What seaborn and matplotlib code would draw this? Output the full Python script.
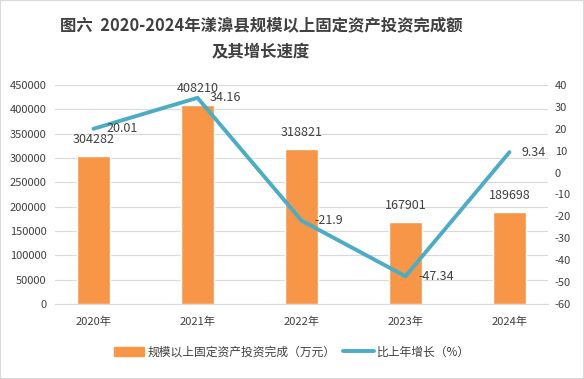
import seaborn as sns
from matplotlib import pyplot as plt
from matplotlib.patches import Patch
from matplotlib.lines import Line2D
import numpy as np
import pandas as pd

years = ['2020年', '2021年', '2022年', '2023年', '2024年']
invest = [304282, 408210, 318821, 167901, 189698]
growth = [20.01, 34.16, -21.9, -47.34, 9.34]

BAR = '#f79646'
LINE = '#4bacc6'
TXT = '#404040'

sns.set_style('white')
plt.rcParams['font.family'] = ['Noto Sans CJK SC', 'DejaVu Sans']
plt.rcParams['axes.unicode_minus'] = False

df = pd.DataFrame({'year': years, 'invest': invest, 'growth': growth})

fig = plt.figure(figsize=(5.84, 3.79), dpi=100)
ax = fig.add_axes([55 / 584, 1 - 304 / 379, 493 / 584, 219 / 379])
sns.barplot(data=df, x='year', y='invest', color=BAR, width=0.31, saturation=1, ax=ax)
ax.set_ylim(0, 450000)
ax.set_yticks(np.arange(0, 450001, 50000))
ax.yaxis.grid(True, color='#d9d9d9', lw=0.8)
ax.set_axisbelow(True)
for s in ax.spines.values():
    s.set_visible(False)
ax.spines['bottom'].set_visible(True)
ax.spines['bottom'].set_color('#d9d9d9')
ax.set_xlabel('')
ax.set_ylabel('')
ax.tick_params(length=0, labelsize=8, colors=TXT, pad=6)
ax.tick_params(axis='x', pad=9)
for i, v in enumerate(invest):
    ax.annotate(str(v), (i, v), xytext=(0, 12), textcoords='offset points',
                ha='center', va='center', fontsize=9, color=TXT)

ax2 = ax.twinx()
sns.lineplot(x=np.arange(len(years)), y=growth, color=LINE, lw=2.8, ax=ax2)
ax2.set_ylim(-60, 40)
ax2.set_yticks(np.arange(-60, 41, 10))
for s in ax2.spines.values():
    s.set_visible(False)
ax2.tick_params(length=0, labelsize=8, colors=TXT, pad=5)
for i, v in enumerate(growth):
    ax2.annotate(f'{v:g}', (i, v), xytext=(9, 0), textcoords='offset points',
                 ha='left', va='center', fontsize=9, color=TXT)

# title sits a bit left of the figure centre in the original
tx = 261 / 584
fig.text(tx, 1 - 25 / 379, '图六  2020-2024年漾濞县规模以上固定资产投资完成额',
         ha='center', va='center', fontsize=11.8, fontweight='bold', color=TXT)
fig.text(tx, 1 - 52 / 379, '及其增长速度',
         ha='center', va='center', fontsize=11.8, fontweight='bold', color=TXT)

handles = [Patch(color=BAR), Line2D([], [], color=LINE, lw=2.8)]
fig.legend(handles, ['规模以上固定资产投资完成（万元）', '比上年增长（%）'],
           loc='center', bbox_to_anchor=(0.5, 1 - 352 / 379), ncol=2, frameon=False,
           fontsize=8.5, labelcolor=TXT, handlelength=2.6, columnspacing=0.6,
           handletextpad=0.3)
fig.patches.append(plt.Rectangle((0, 0), 1, 1, transform=fig.transFigure,
                                 fill=False, ec='#d9d9d9', lw=1.5))
fig.savefig('out.png')
